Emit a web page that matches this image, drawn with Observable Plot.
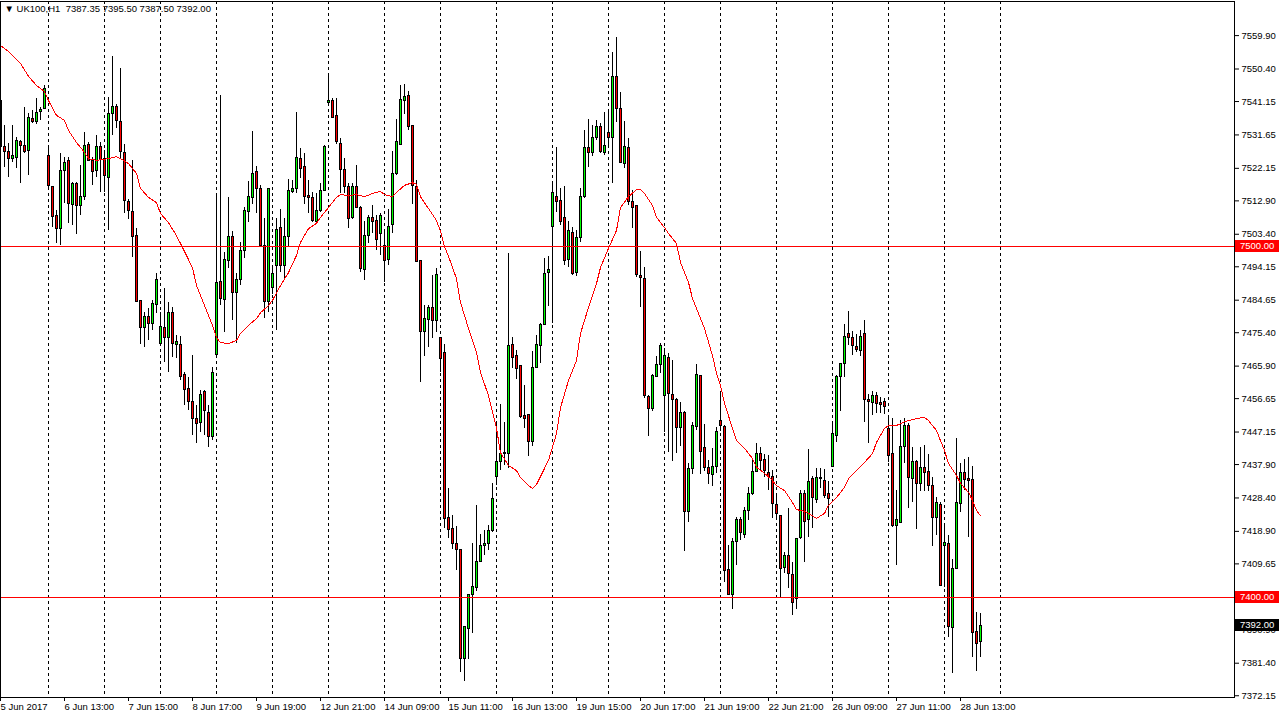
<!DOCTYPE html>
<html><head><meta charset="utf-8">
<script src="https://cdn.jsdelivr.net/npm/d3@7"></script>
<script src="https://cdn.jsdelivr.net/npm/@observablehq/plot@0.6"></script>
<style>
html,body{margin:0;padding:0;background:#fff;}
#chart{position:relative;width:1280px;height:721px;overflow:hidden;}
svg{display:block;}
</style></head><body><div id="chart"></div>
<script>
// UK100, H1 — bar index 0 = 5 Jun 2017 11:00 (14 hourly bars per trading day, 09:00-22:00)
const openP = [
7541.2,7528.1,7526.7,7524.9,7525.2,7529.5,7528.6,7527.2,7536.3,7535.2,
7538.3,7538.9,7525.8,7516.7,7508.7,7505.0,7521.3,7524.1,7511.6,7517.8,
7511.3,7514.1,7528.9,7524.1,7521.3,7528.1,7524.9,7519.5,7537.7,7539.7,
7535.2,7526.4,7512.7,7509.6,7502.8,7484.3,7476.6,7480.0,7478.0,7483.4,
7472.3,7476.6,7474.0,7480.9,7472.0,7472.0,7463.5,7459.5,7455.6,7451.0,
7449.6,7458.4,7452.7,7445.6,7469.2,7489.7,7484.8,7495.7,7502.5,7486.8,
7490.5,7498.5,7509.6,7513.6,7521.0,7516.4,7500.2,7484.0,7488.0,7494.5,
7505.3,7494.5,7502.5,7515.3,7516.4,7524.9,7522.4,7514.4,7513.6,7507.0,
7509.9,7515.8,7540.6,7541.2,7536.9,7529.2,7521.8,7516.7,7507.9,7516.7,
7511.0,7493.1,7502.8,7507.9,7507.3,7503.6,7500.2,7496.2,7505.9,7520.4,
7528.9,7541.4,7542.6,7534.1,7516.7,7495.7,7475.7,7478.9,7482.3,7478.6,
7474.0,7469.5,7422.8,7419.7,7415.2,7413.7,7382.5,7391.0,7400.9,7402.9,
7410.3,7414.6,7415.2,7418.9,7434.5,7438.5,7440.8,7441.0,7472.0,7468.9,
7465.8,7451.6,7451.9,7444.2,7465.5,7471.5,7477.7,7492.5,7505.6,7514.1,
7513.0,7507.9,7496.2,7503.9,7492.5,7502.2,7513.9,7527.8,7526.4,7530.9,
7533.8,7526.4,7532.1,7530.9,7548.0,7538.9,7523.5,7527.8,7512.7,7511.3,
7491.4,7490.8,7457.0,7453.6,7462.9,7466.1,7457.3,7468.3,7457.8,7456.4,
7448.2,7452.7,7424.3,7436.5,7448.7,7463.2,7442.5,7436.8,7434.8,7437.3,
7450.3,7448.7,7407.8,7400.7,7416.0,7422.0,7418.0,7424.6,7429.4,7435.9,
7441.0,7439.1,7435.4,7434.5,7426.5,7423.4,7408.6,7412.0,7406.6,7399.8,
7416.9,7429.4,7422.0,7433.7,7427.7,7434.2,7433.1,7429.4,7437.3,7445.9,
7462.7,7466.6,7474.9,7474.0,7471.2,7470.1,7474.9,7456.4,7455.3,7457.3,
7455.3,7455.6,7447.9,7441.0,7420.3,7421.4,7443.0,7449.0,7433.9,7438.5,
7432.5,7436.8,7435.9,7431.7,7422.8,7426.5,7414.6,7415.4,7391.3,7408.1,
7426.8,7435.6,7433.7,7433.4,7390.4,7387.35
];
const highP = [
7543.7,7534.3,7529.2,7534.3,7530.9,7530.1,7539.5,7537.7,7538.6,7542.0,
7539.5,7545.7,7528.1,7516.7,7510.2,7526.4,7525.2,7525.2,7518.1,7518.1,
7523.0,7532.3,7529.5,7525.2,7531.5,7529.5,7527.2,7542.3,7554.0,7540.3,
7550.5,7528.9,7513.3,7524.4,7505.0,7484.3,7481.1,7482.3,7484.6,7492.2,
7481.1,7488.0,7484.0,7482.6,7474.6,7474.3,7464.1,7462.7,7468.9,7454.7,
7459.0,7459.0,7454.7,7465.5,7515.0,7542.9,7498.2,7513.9,7504.2,7492.2,
7501.1,7511.0,7518.4,7532.6,7522.7,7517.3,7507.9,7516.4,7493.7,7507.9,
7510.4,7507.9,7519.0,7518.7,7538.0,7527.8,7526.4,7518.7,7515.3,7515.0,
7517.8,7528.6,7548.6,7542.0,7542.0,7530.6,7524.9,7517.8,7517.8,7523.0,
7511.3,7507.0,7508.7,7511.6,7508.7,7509.3,7504.2,7510.4,7526.9,7536.0,
7545.7,7546.0,7544.0,7534.1,7518.7,7495.7,7483.1,7483.1,7491.7,7493.7,
7474.0,7472.0,7431.2,7423.4,7420.3,7413.7,7391.6,7400.9,7415.4,7426.3,
7418.0,7419.1,7420.6,7432.5,7449.6,7455.0,7449.9,7497.9,7474.0,7470.3,
7465.8,7460.4,7451.9,7470.1,7474.6,7478.0,7496.5,7497.1,7518.1,7528.1,
7516.4,7517.0,7507.0,7505.3,7504.5,7516.4,7532.9,7536.0,7534.3,7535.8,
7534.9,7538.0,7538.0,7555.1,7559.4,7543.7,7535.5,7530.6,7515.8,7511.6,
7498.5,7493.9,7457.5,7463.5,7468.6,7472.3,7470.9,7469.5,7467.5,7456.7,
7455.6,7453.0,7438.2,7449.9,7466.4,7463.2,7449.3,7439.1,7442.5,7448.4,
7458.4,7449.0,7414.9,7416.9,7422.8,7422.8,7425.7,7431.4,7439.1,7443.9,
7442.8,7440.8,7440.5,7436.2,7429.1,7423.4,7412.9,7425.4,7410.0,7416.9,
7430.5,7430.5,7442.2,7434.5,7436.8,7436.8,7436.5,7433.1,7449.6,7463.2,
7466.6,7477.7,7481.4,7475.7,7474.9,7476.0,7478.9,7457.8,7458.7,7458.4,
7457.0,7456.7,7451.3,7451.0,7430.5,7450.4,7451.0,7449.6,7442.8,7439.1,
7442.8,7443.3,7440.8,7434.2,7428.5,7427.1,7420.6,7417.7,7410.9,7445.3,
7438.2,7439.3,7439.9,7437.3,7395.8,7395.5
];
const lowP = [
7527.2,7522.4,7519.5,7523.8,7522.1,7517.8,7526.4,7520.1,7534.9,7534.6,
7535.8,7538.9,7516.7,7505.3,7500.8,7500.2,7512.2,7506.5,7505.9,7503.3,
7508.7,7513.0,7524.1,7517.3,7519.5,7515.3,7515.3,7504.5,7531.5,7533.5,
7524.9,7509.3,7507.6,7496.8,7484.0,7472.0,7471.2,7473.2,7476.0,7480.9,
7472.3,7466.9,7464.1,7468.3,7468.1,7461.8,7454.7,7453.3,7446.2,7443.9,
7447.0,7446.2,7442.8,7444.7,7468.3,7483.1,7475.5,7493.7,7478.9,7472.3,
7488.8,7496.5,7506.7,7511.9,7509.3,7500.2,7479.4,7481.1,7486.3,7476.0,
7492.5,7490.8,7499.6,7515.0,7515.0,7519.3,7511.9,7509.3,7506.7,7506.7,
7509.6,7515.6,7540.3,7536.3,7528.9,7515.0,7515.0,7505.0,7507.6,7510.7,
7492.5,7490.3,7500.8,7503.6,7498.8,7497.4,7489.7,7494.5,7503.6,7520.1,
7528.6,7537.5,7532.9,7511.9,7495.4,7461.2,7468.6,7471.2,7473.8,7475.5,
7464.1,7419.7,7416.9,7413.7,7407.8,7378.8,7376.2,7382.5,7389.9,7401.8,
7410.0,7412.0,7413.5,7418.6,7431.9,7436.2,7437.6,7436.8,7465.2,7462.1,
7451.0,7448.2,7440.2,7443.0,7465.2,7466.6,7477.7,7482.9,7478.0,7509.6,
7505.9,7494.5,7493.9,7491.7,7491.4,7501.1,7513.6,7522.4,7525.5,7530.1,
7526.4,7525.8,7528.6,7517.8,7535.2,7523.5,7522.1,7511.6,7505.0,7491.1,
7482.6,7456.7,7445.9,7453.0,7462.7,7463.8,7447.0,7441.3,7438.8,7441.0,
7443.0,7413.2,7421.4,7435.1,7447.6,7435.1,7435.9,7432.2,7431.7,7435.4,
7447.3,7404.4,7400.7,7396.7,7409.2,7416.3,7416.9,7422.0,7429.1,7435.6,
7436.2,7434.2,7430.5,7422.6,7422.6,7399.8,7406.9,7402.7,7395.0,7396.7,
7416.6,7410.0,7417.2,7419.7,7426.8,7431.1,7428.2,7422.8,7437.1,7444.2,
7453.0,7462.7,7471.8,7468.9,7469.8,7468.6,7449.9,7443.9,7451.9,7452.4,
7452.4,7452.1,7438.5,7420.0,7409.2,7421.4,7438.2,7425.4,7427.1,7419.4,
7430.2,7430.2,7430.2,7414.6,7417.7,7403.5,7402.9,7388.7,7378.5,7408.1,
7424.3,7430.5,7417.2,7383.0,7379.0,7383.0
];
const closeP = [
7528.1,7526.7,7524.9,7525.8,7529.8,7528.4,7526.7,7536.6,7535.2,7538.0,
7538.6,7544.6,7517.0,7508.4,7505.0,7521.5,7523.8,7511.9,7517.8,7511.3,
7514.1,7528.6,7524.1,7521.0,7528.1,7524.4,7520.1,7537.7,7539.7,7535.5,
7526.7,7513.0,7509.9,7502.5,7484.0,7476.6,7480.0,7478.0,7483.7,7490.5,
7476.9,7474.0,7481.1,7472.3,7472.9,7462.9,7459.2,7455.6,7451.0,7449.3,
7457.8,7453.0,7445.6,7463.8,7489.4,7485.1,7496.2,7502.5,7486.6,7490.5,
7498.5,7509.9,7514.1,7520.4,7516.4,7500.2,7484.0,7516.4,7492.0,7504.5,
7494.5,7502.5,7515.6,7516.4,7525.2,7522.1,7514.1,7513.6,7507.3,7509.9,
7515.8,7528.1,7541.2,7536.6,7529.5,7521.8,7516.7,7507.6,7516.7,7511.0,
7493.5,7502.8,7507.9,7507.0,7501.8,7508.7,7495.9,7505.6,7520.4,7529.5,
7541.7,7542.3,7533.8,7517.0,7495.4,7475.5,7479.2,7482.3,7478.6,7491.7,
7467.8,7422.3,7419.3,7415.3,7413.5,7382.7,7391.6,7400.9,7403.2,7410.3,
7414.6,7415.4,7418.9,7428.0,7438.5,7441.0,7441.3,7471.5,7468.3,7465.2,
7451.3,7451.0,7444.2,7465.5,7471.8,7477.5,7492.2,7493.1,7515.0,7512.7,
7507.0,7495.7,7504.2,7492.2,7502.2,7513.9,7527.8,7526.4,7530.9,7533.8,
7526.7,7528.4,7530.9,7548.0,7538.9,7523.8,7528.1,7512.7,7510.9,7491.7,
7491.1,7457.3,7453.6,7463.2,7466.1,7471.5,7468.9,7458.1,7456.4,7448.2,
7452.7,7424.3,7436.5,7449.0,7463.5,7441.6,7436.8,7435.1,7437.1,7447.3,
7448.9,7407.5,7400.9,7416.0,7422.0,7418.3,7424.6,7429.4,7435.9,7440.8,
7438.8,7436.2,7434.5,7426.8,7423.7,7408.3,7412.0,7406.9,7398.4,7416.6,
7429.4,7421.7,7432.9,7428.4,7434.2,7433.7,7429.1,7428.2,7446.5,7462.9,
7466.4,7474.3,7474.0,7471.5,7470.6,7474.3,7456.4,7455.8,7457.3,7455.0,
7454.7,7454.4,7440.2,7420.3,7422.0,7443.0,7449.0,7434.2,7438.5,7432.5,
7436.8,7435.6,7431.9,7422.6,7427.1,7403.5,7415.7,7391.6,7408.3,7427.1,
7435.4,7433.4,7433.1,7390.1,7387.0,7392.0
];
// moving average (red line), sampled at bar indices
const maIdx = [0,2,5,7,9,11,12,14,16,17,19,21,22,24,27,29,30,32,34,35,37,39,40,42,44,46,48,49,51,53,54,55,57,59,60,62,64,65,67,68,70,72,74,75,77,79,80,82,84,85,87,89,91,93,95,96,98,99,101,103,104,105,107,109,110,111,112,114,115,117,119,120,122,124,125,127,129,130,132,133,134,136,137,139,140,142,144,145,147,149,150,152,154,155,157,159,160,161,163,164,166,167,169,170,172,173,174,176,178,179,180,181,183,184,186,188,189,191,193,194,196,198,199,201,202,204,206,207,209,211,212,214,216,218,219,221,222,224,226,228,229,231,232,234,235,236,237,239,240,242,243,244,245];
const maVal = [7557.1,7555.4,7552.0,7548.3,7545.7,7544.0,7541.4,7537.2,7535.8,7532.9,7529.5,7526.7,7524.9,7524.4,7524.9,7525.5,7524.9,7523.5,7520.7,7516.4,7513.9,7512.4,7509.3,7506.7,7503.0,7498.5,7493.9,7488.8,7483.1,7477.5,7474.0,7472.6,7472.3,7473.2,7475.2,7477.5,7479.4,7481.1,7483.1,7484.6,7488.8,7492.5,7497.4,7501.1,7505.0,7506.5,7508.2,7511.0,7513.9,7514.7,7514.4,7514.7,7514.1,7515.0,7515.6,7514.7,7514.1,7515.3,7517.3,7518.1,7517.6,7514.1,7510.7,7507.3,7504.2,7499.9,7497.1,7490.8,7484.0,7476.6,7469.8,7464.1,7457.5,7448.2,7441.3,7437.6,7436.2,7434.2,7431.9,7431.1,7432.2,7436.8,7439.1,7446.7,7454.1,7461.8,7467.5,7475.2,7482.6,7489.4,7493.9,7499.4,7504.5,7511.0,7514.1,7516.1,7516.1,7515.0,7511.6,7508.2,7505.3,7503.6,7500.8,7495.4,7489.7,7485.1,7482.3,7476.6,7468.9,7463.8,7460.4,7455.3,7448.2,7444.7,7442.5,7439.6,7437.1,7435.4,7433.4,7431.9,7430.5,7427.1,7425.1,7424.6,7424.0,7422.6,7424.0,7426.3,7428.5,7431.4,7433.9,7436.2,7438.5,7441.0,7444.2,7448.2,7449.0,7449.0,7450.1,7450.7,7451.0,7451.3,7450.4,7447.6,7444.7,7441.9,7438.2,7434.8,7432.5,7430.0,7427.7,7424.8,7423.4];

const yTicks = [7559.90,7550.40,7541.15,7531.65,7522.15,7512.90,7503.40,7494.15,7484.65,7475.40,7465.90,7456.65,7447.15,7437.90,7428.40,7418.90,7409.65,7390.90,7381.40,7372.15];
const xTickIdx = [0,16,32,48,64,80,96,112,128,144,160,176,192,208,224,240];
const xTickLabels = ["5 Jun 2017","6 Jun 13:00","7 Jun 15:00","8 Jun 17:00","9 Jun 19:00","12 Jun 21:00","14 Jun 09:00","15 Jun 11:00","16 Jun 13:00","19 Jun 15:00","20 Jun 17:00","21 Jun 19:00","22 Jun 21:00","26 Jun 09:00","27 Jun 11:00","28 Jun 13:00"];
const dayStartIdx = [12,26,40,54,68,82,96,110,124,138,152,166,180,194,208,222,236,250];
const levelValues = [7500, 7400];
const lastPrice = 7392.00;
const headerText = "\u25BC UK100,H1  7387.35 7395.50 7387.50 7392.00";

const candles = openP.map((o, i) => ({i, open: o, high: highP[i], low: lowP[i], close: closeP[i], up: closeP[i] >= o}));
const ma = maIdx.map((i, k) => ({i, v: maVal[k]}));

const FONT = "'Liberation Sans', Arial, sans-serif";

const chart = Plot.plot({
  width: 1280, height: 721,
  marginLeft: 0, marginRight: 46, marginTop: 1, marginBottom: 24,
  style: {fontFamily: FONT, fontSize: "9.5px", background: "#fff", color: "#000", overflow: "visible"},
  x: {domain: [0, 308.5], axis: null},
  y: {domain: [7371.65, 7569.6], axis: null},
  color: {type: "identity"},
  marks: [
    Plot.ruleX(dayStartIdx, {x: d => d, stroke: "#000", strokeDasharray: "3,3", shapeRendering: "crispEdges"}),
    Plot.ruleX(candles, {x: "i", y1: "low", y2: "high", stroke: "#000", shapeRendering: "crispEdges"}),
    Plot.rect(candles, {x1: d => d.i - 0.25, x2: d => d.i + 0.25, y1: "open", y2: "close",
      fill: d => d.up ? "#00ff00" : "#ff0000", stroke: "#000", dx: 0.5, shapeRendering: "crispEdges"}),
    Plot.ruleY(levelValues, {y: d => d, stroke: "#ff0000", shapeRendering: "crispEdges"}),
    Plot.line(ma, {x: "i", y: "v", stroke: "#ff0000", strokeWidth: 1, shapeRendering: "crispEdges"}),
    Plot.frame({stroke: "#000", shapeRendering: "crispEdges"}),
    Plot.axisY({anchor: "right", ticks: yTicks, tickFormat: d => d.toFixed(2), tickSize: 4, tickPadding: 3, label: null, fill: "#000"}),
    Plot.axisX({anchor: "bottom", ticks: xTickIdx, tickFormat: d => xTickLabels[xTickIdx.indexOf(d)], tickSize: 4, tickPadding: 2, textAnchor: "start", label: null, fill: "#000"}),
    Plot.text([headerText], {text: d => d, frameAnchor: "top-left", dx: 4, dy: 4, textAnchor: "start", fill: "#000"})
  ]
});
document.getElementById("chart").appendChild(chart);

// price boxes in the right scale area (positions from the plot's own y scale)
const ys = chart.scale("y");
const svg = d3.select(chart);
const boxes = [
  {v: levelValues[0], bg: "#ff0000"},
  {v: levelValues[1], bg: "#ff0000"},
  {v: lastPrice, bg: "#000000"}
];
const g = svg.append("g").attr("font-family", FONT).attr("font-size", "9.5px").attr("text-anchor", "start");
boxes.forEach(b => {
  const y = Math.round(ys.apply(b.v));
  g.append("rect").attr("x", 1235).attr("y", y - 6).attr("width", 44).attr("height", 12).attr("fill", b.bg);
  g.append("text").attr("x", 1240).attr("y", y).attr("dy", "0.32em").attr("text-anchor", "start").attr("fill", "#fff").text(b.v.toFixed(2));
});
</script></body></html>
